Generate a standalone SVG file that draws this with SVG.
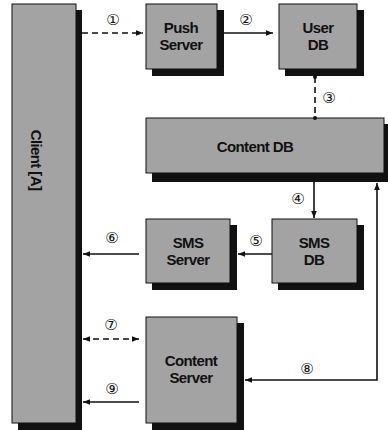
<svg xmlns="http://www.w3.org/2000/svg" width="388" height="430" viewBox="0 0 388 430">
<style>
.box{fill:#a3a3a3;stroke:#111;stroke-width:1}
.sh{fill:#111}
.t{font-family:"Liberation Sans",Arial,sans-serif;font-weight:bold;font-size:15px;letter-spacing:-0.6px;fill:#111;text-anchor:middle}
.n{font-family:"DejaVu Sans","Noto Sans CJK JP",sans-serif;font-size:15px;fill:#111;text-anchor:middle}
.ln{stroke:#111;stroke-width:1.6;fill:none}
.d{stroke-dasharray:6,4}
</style>
<defs>
<marker id="ah" viewBox="0 0 10 10" refX="10" refY="5" markerWidth="7" markerHeight="7" orient="auto-start-reverse" markerUnits="userSpaceOnUse">
<path d="M0,1 L10,5 L0,9 Z" fill="#111"/>
</marker>
</defs>
<rect width="388" height="430" fill="#fff"/>
<g id="client">
<rect class="sh" x="18" y="10" width="64" height="420"/>
<rect class="box" x="12" y="4" width="64" height="419"/>
<text class="t" transform="translate(31,160) rotate(90)" x="0" y="0">Client  [A]</text>
</g>
<g id="push-server">
<rect class="sh" x="152" y="10" width="72" height="66"/>
<rect class="box" x="146" y="4" width="71" height="65"/>
<text class="t" x="181" y="33">Push</text>
<text class="t" x="181" y="50">Server</text>
</g>
<g id="user-db">
<rect class="sh" x="285" y="10" width="79" height="66"/>
<rect class="box" x="279" y="4" width="78" height="65"/>
<text class="t" x="318" y="33">User</text>
<text class="t" x="318" y="50">DB</text>
</g>
<g id="content-db">
<rect class="sh" x="152" y="124" width="236" height="58"/>
<rect class="box" x="146" y="118" width="238" height="55"/>
<text class="t" x="255" y="152">Content DB</text>
</g>
<g id="sms-server">
<rect class="sh" x="152" y="225" width="85" height="65"/>
<rect class="box" x="146" y="219" width="84" height="64"/>
<text class="t" x="188" y="248">SMS</text>
<text class="t" x="188" y="265">Server</text>
</g>
<g id="sms-db">
<rect class="sh" x="278" y="225" width="86" height="65"/>
<rect class="box" x="272" y="219" width="85" height="64"/>
<text class="t" x="314" y="248">SMS</text>
<text class="t" x="314" y="265">DB</text>
</g>
<g id="content-server">
<rect class="sh" x="152" y="323" width="92" height="107"/>
<rect class="box" x="146" y="317" width="91" height="106"/>
<text class="t" x="191" y="366">Content</text>
<text class="t" x="191" y="383">Server</text>
</g>
<g id="connectors">
<line class="ln d" x1="82" y1="33" x2="143" y2="33" marker-end="url(#ah)"/>
<text class="n" x="113" y="25">①</text>
<line class="ln" x1="224" y1="33" x2="273" y2="33" marker-end="url(#ah)"/>
<text class="n" x="246" y="25">②</text>
<line class="ln d" x1="315" y1="77" x2="315" y2="118"/>
<circle cx="315" cy="77" r="2" fill="#111"/>
<circle cx="315" cy="118" r="2" fill="#111"/>
<text class="n" x="329" y="103">③</text>
<line class="ln" x1="314" y1="182" x2="314" y2="218" marker-end="url(#ah)"/>
<text class="n" x="298" y="204">④</text>
<line class="ln" x1="272" y1="254" x2="238" y2="254" marker-end="url(#ah)"/>
<text class="n" x="256" y="246">⑤</text>
<line class="ln" x1="139" y1="254" x2="83" y2="254" marker-end="url(#ah)"/>
<text class="n" x="112" y="243">⑥</text>
<line class="ln d" x1="83" y1="339" x2="139" y2="339" marker-start="url(#ah)" marker-end="url(#ah)"/>
<text class="n" x="111" y="330">⑦</text>
<polyline class="ln" points="377,183 377,380 245,380" marker-start="url(#ah)" marker-end="url(#ah)"/>
<text class="n" x="307" y="374">⑧</text>
<line class="ln" x1="139" y1="402" x2="83" y2="402" marker-end="url(#ah)"/>
<text class="n" x="112" y="394">⑨</text>
</g>
</svg>
